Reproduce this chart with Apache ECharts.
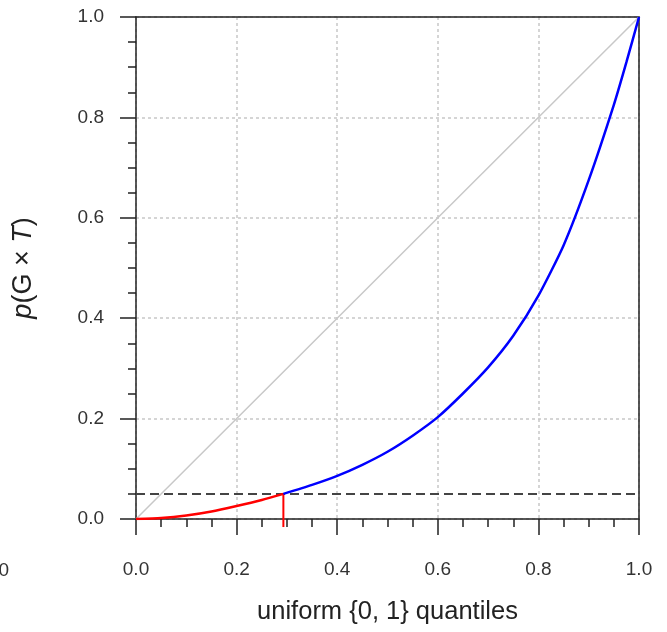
<!DOCTYPE html>
<html style="height: 100%">
  <head>
    <meta charset="utf-8" />
  </head>
  <body style="height: 100%; margin: 0; background: #fff">
    <div id="container" style="width: 667px; height: 632px"></div>

    <script
      type="text/javascript"
      src="https://cdn.jsdelivr.net/npm/echarts@6/dist/echarts.min.js"
    ></script>

    <script type="text/javascript">
      var dom = document.getElementById("container");
      var myChart = echarts.init(dom);

      // uniform quantiles and p values
      var redX = [0, 0.05, 0.1, 0.15, 0.2, 0.25, 0.293];
      var redY = [0, 0.002, 0.007, 0.015, 0.026, 0.038, 0.05];
      var blueX = [0.293, 0.35, 0.4, 0.45, 0.5, 0.55, 0.6, 0.65, 0.7, 0.75, 0.8, 0.85, 0.9, 0.95, 0.975, 1.0];
      var blueY = [0.05, 0.068, 0.086, 0.108, 0.134, 0.166, 0.203, 0.25, 0.302, 0.365, 0.445, 0.545, 0.675, 0.825, 0.91, 1.0];
      var cutoff = 0.05;
      var cutX = 0.293;
      var tickLabels = ["0.0", "0.2", "0.4", "0.6", "0.8", "1.0"];

      function pairs(xs, ys) {
        var out = [];
        for (var i = 0; i < xs.length; i++) out.push([xs[i], ys[i]]);
        return out;
      }

      var font = "'Liberation Sans', Arial, sans-serif";
      var fmt = function (v) {
        return tickLabels[Math.round(v * 5)];
      };
      var dark = { color: "#222", width: 1.5 };

      // frame lines on top and right side
      var frameAxis = {
        type: "value",
        min: 0,
        max: 1,
        axisLine: { show: true, onZero: false, lineStyle: dark },
        axisTick: { show: false },
        axisLabel: { show: false },
        splitLine: { show: false },
      };

      option = {
        backgroundColor: "#fff",
        animation: false,
        textStyle: { fontFamily: font },
        grid: {
          left: 136,
          right: 28,
          top: 17,
          bottom: 113,
        },
        graphic: [
          {
            type: "text",
            right: 658,
            top: 561,
            style: { text: "1.0", fill: "#333", font: "19px " + font },
          },
        ],
        xAxis: [
          {
            type: "value",
            min: 0,
            max: 1,
            interval: 0.2,
            name: "uniform {0, 1} quantiles",
            nameLocation: "middle",
            nameGap: 80,
            nameTextStyle: { fontSize: 25.5, color: "#222" },
            axisLine: { onZero: false, lineStyle: dark },
            axisTick: { length: 16, lineStyle: dark },
            minorTick: { show: true, splitNumber: 4, length: 8, lineStyle: dark },
            axisLabel: { fontSize: 19, color: "#333", margin: 41, formatter: fmt },
            splitLine: { lineStyle: { color: "#c8c8c8", type: [3, 3], width: 1.5 } },
          },
          Object.assign({ position: "top" }, frameAxis),
        ],
        yAxis: [
          {
            type: "value",
            min: 0,
            max: 1,
            interval: 0.2,
            name: "{i|p}{n|(G × }{i|T}{n|)}",
            nameLocation: "middle",
            nameRotate: 90,
            nameGap: 99,
            nameTextStyle: {
              rich: {
                i: { fontSize: 27, fontStyle: "italic", color: "#222", fontFamily: font },
                n: { fontSize: 27, color: "#222", fontFamily: font },
              },
            },
            axisLine: { onZero: false, lineStyle: dark },
            axisTick: { length: 16, lineStyle: dark },
            minorTick: { show: true, splitNumber: 4, length: 8, lineStyle: dark },
            axisLabel: { fontSize: 19, color: "#333", margin: 32, formatter: fmt },
            splitLine: { lineStyle: { color: "#c8c8c8", type: [3, 3], width: 1.5 } },
          },
          Object.assign({ position: "right" }, frameAxis),
        ],
        series: [
          {
            type: "line",
            data: [[0, 0], [1, 1]],
            symbol: "none",
            lineStyle: { color: "#c8c8c8", width: 1.5 },
          },
          {
            type: "line",
            data: [[0, cutoff], [1, cutoff]],
            symbol: "none",
            lineStyle: { color: "#444", width: 2, type: [9, 5] },
          },
          {
            type: "line",
            data: pairs(redX, redY),
            symbol: "none",
            smooth: 0.2,
            lineStyle: { color: "#ff0000", width: 2.5 },
          },
          {
            type: "line",
            data: [[cutX, cutoff], [cutX, -0.016]],
            symbol: "none",
            clip: false,
            lineStyle: { color: "#ff0000", width: 2 },
          },
          {
            type: "line",
            data: pairs(blueX, blueY),
            symbol: "none",
            smooth: 0.2,
            lineStyle: { color: "#0000ff", width: 2.5 },
          },
        ],
      };

      option && myChart.setOption(option);
    </script>
  </body>
</html>
